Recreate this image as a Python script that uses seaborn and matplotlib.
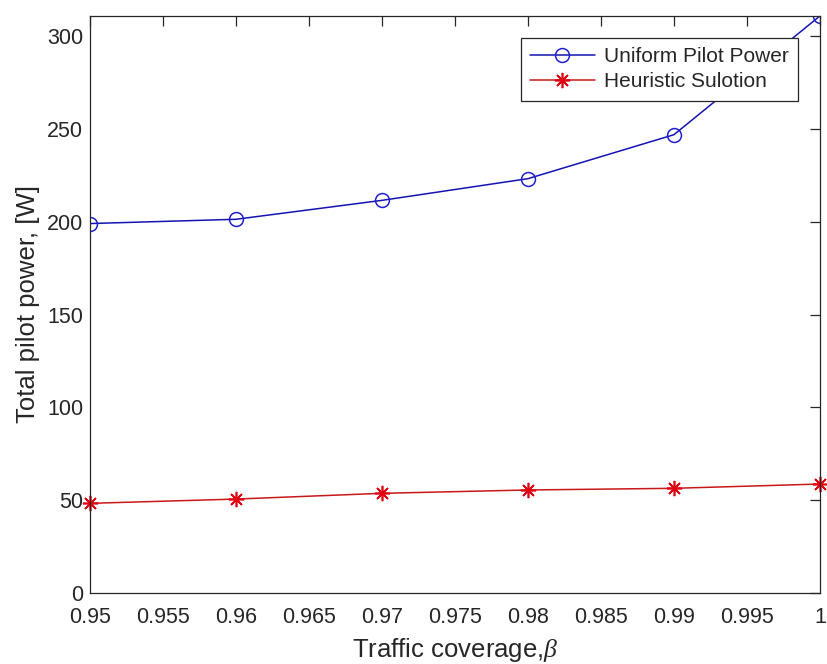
import numpy as np
import pandas as pd
import matplotlib
matplotlib.use("Agg")
import matplotlib.pyplot as plt
import seaborn as sns

# data
coverage = [0.95, 0.96, 0.97, 0.98, 0.99, 1.00]
uniform_power = [199.1, 201.4, 211.6, 223.3, 247.0, 311.0]
heuristic_power = [48.3, 50.6, 53.7, 55.5, 56.4, 58.7]

x_ticks = [0.95, 0.955, 0.96, 0.965, 0.97, 0.975, 0.98, 0.985, 0.99, 0.995, 1.0]
x_tick_labels = ["0.95", "0.955", "0.96", "0.965", "0.97", "0.975",
                 "0.98", "0.985", "0.99", "0.995", "1"]
y_ticks = [0, 50, 100, 150, 200, 250, 300]

sns.set_theme(style="white")
plt.rcParams["font.family"] = ["Liberation Sans", "DejaVu Sans"]
plt.rcParams["mathtext.fontset"] = "custom"
plt.rcParams["mathtext.it"] = "Liberation Serif:italic"

txt = "#262626"

fig = plt.figure(figsize=(8.27, 6.64), dpi=100)
ax = fig.add_axes([0.1088, 0.107, 0.8827, 0.869])

sns.lineplot(x=coverage, y=uniform_power, ax=ax, color="#1414b4", lw=1.1,
             marker="o", markersize=10, markerfacecolor="none",
             markeredgecolor="#2020d0", markeredgewidth=1.1,
             label="Uniform Pilot Power", clip_on=True)
sns.lineplot(x=coverage, y=heuristic_power, ax=ax, color="#c81818", lw=1.1,
             marker=(8, 2, 0), markersize=11, markeredgecolor="#e00010",
             markeredgewidth=1.2, label="Heuristic Sulotion", clip_on=False)

ax.set_xlim(0.95, 1.0)
ax.set_ylim(0, 311)
ax.set_xticks(x_ticks)
ax.set_xticklabels(x_tick_labels)
ax.set_yticks(y_ticks)

ax.tick_params(direction="in", length=7, width=0.9, colors=txt,
               labelsize=15.5, top=True, right=True,
               labeltop=False, labelright=False)
ax.tick_params(axis="x", pad=10)
ax.tick_params(axis="y", pad=5)
for s in ax.spines.values():
    s.set_color(txt)
    s.set_linewidth(0.9)

ax.set_xlabel(r"Traffic coverage,$\beta$", fontsize=18.5, color=txt, labelpad=6)
ax.set_ylabel("Total pilot power, [W]", fontsize=18.5, color=txt, labelpad=5)

leg = ax.legend(loc="upper right", bbox_to_anchor=(0.970, 0.962),
                borderaxespad=0, fancybox=False, framealpha=1,
                edgecolor=txt, fontsize=15, handlelength=3.1,
                handletextpad=0.45, labelspacing=0.3, borderpad=0.45)
leg.get_frame().set_linewidth(0.9)
for t in leg.get_texts():
    t.set_color(txt)

fig.savefig("out.png", dpi=100, facecolor="white")
